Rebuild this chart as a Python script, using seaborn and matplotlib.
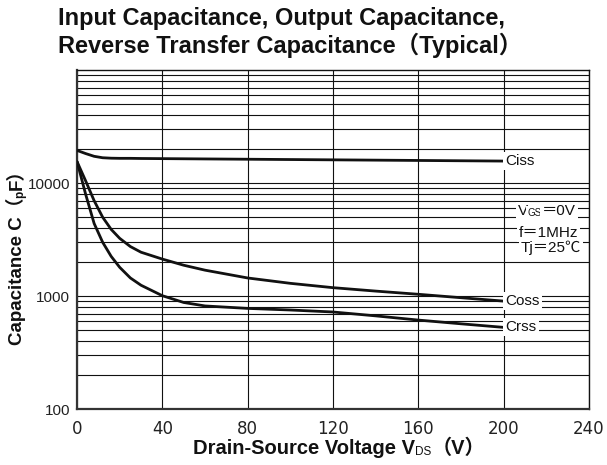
import numpy as np
import pandas as pd
import matplotlib
matplotlib.use("Agg")
import matplotlib.pyplot as plt
from matplotlib.ticker import FixedLocator, LogLocator, NullFormatter
import seaborn as sns

# values (VDS in V, capacitance in pF)
VDS = [0, 4, 8, 12, 16, 20, 25, 30, 40, 50, 60, 80, 100, 120, 140, 160, 180, 200]
CISS = [19500, 18300, 17300, 16800, 16650, 16600, 16600, 16550, 16500, 16450,
        16400, 16300, 16200, 16100, 16000, 15900, 15800, 15700]
COSS = [15500, 10500, 7000, 5000, 3900, 3250, 2750, 2450, 2130, 1880,
        1700, 1450, 1300, 1190, 1110, 1040, 970, 905]
CRSS = [15500, 8000, 4400, 3000, 2250, 1800, 1450, 1250, 1010, 880,
        820, 780, 755, 725, 670, 615, 570, 530]

X_TICKS = [0, 40, 80, 120, 160, 200, 240]
Y_TICKS = [100, 1000, 10000]
Y_TICK_LABELS = ["100", "1000", "10000"]

TITLE = "Input Capacitance, Output Capacitance,\nReverse Transfer Capacitance（Typical）"
INK = "#111111"

sns.set_style("white")
plt.rcParams["font.family"] = ["Liberation Sans", "Noto Sans CJK JP", "DejaVu Sans"]

df = pd.DataFrame({
    "VDS": VDS * 3,
    "C": CISS + COSS + CRSS,
    "curve": ["Ciss"] * len(VDS) + ["Coss"] * len(VDS) + ["Crss"] * len(VDS),
})

fig = plt.figure(figsize=(6.07, 4.65), dpi=100)
ax = fig.add_axes([0.127, 0.120, 0.843, 0.729])

sns.lineplot(data=df, x="VDS", y="C", hue="curve",
             palette={"Ciss": INK, "Coss": INK, "Crss": INK},
             linewidth=2.0, legend=False, ax=ax, zorder=3)

ax.set_yscale("log")
ax.set_xlim(0, 240)
ax.set_ylim(100, 100000)
ax.yaxis.set_minor_locator(LogLocator(base=10, subs=range(2, 10)))
ax.yaxis.set_minor_formatter(NullFormatter())
ax.set_yticks(Y_TICKS, Y_TICK_LABELS)
ax.set_xticks(X_TICKS, [str(v) for v in X_TICKS])

ax.grid(which="both", axis="y", color=INK, linewidth=0.8)
ax.grid(which="major", axis="x", color=INK, linewidth=0.8)
ax.tick_params(which="both", length=0)
ax.tick_params(axis="x", pad=8, labelcolor="#222222")
ax.tick_params(axis="y", pad=5, labelcolor="#222222")
for lab in ax.get_xticklabels():
    lab.set_family("DejaVu Sans")
    lab.set_fontsize(12)
for lab in ax.get_yticklabels():
    lab.set_fontsize(11)

for side in ["left", "bottom"]:
    ax.spines[side].set_linewidth(1.6)
    ax.spines[side].set_color("#333333")
for side in ["top", "right"]:
    ax.spines[side].set_linewidth(1.0)
    ax.spines[side].set_color(INK)
ax.set_xlabel("")
ax.set_ylabel("")

# curve labels
box = dict(facecolor="white", edgecolor="none", pad=1.5)
for name, vals in [("Ciss", CISS), ("Coss", COSS), ("Crss", CRSS)]:
    ax.text(VDS[-1] + 1, vals[-1], name, ha="left", va="center",
            fontsize=11, color=INK, bbox=box, zorder=4)


def chain(first, parts, rotated=False, boxed=False):
    t = first
    for s, size, weight in parts:
        if rotated:
            t = ax.annotate(s, xy=(1, 1), xycoords=t, ha="right", va="bottom",
                            rotation=90, fontsize=size, fontweight=weight,
                            color=INK, annotation_clip=False)
        else:
            t = ax.annotate(s, xy=(1, 0), xycoords=t, ha="left", va="bottom",
                            fontsize=size, fontweight=weight, color=INK,
                            bbox=box if boxed else None, zorder=4,
                            annotation_clip=False)
    return t


# test conditions
cond = dict(fontsize=11, color=INK, bbox=box, zorder=4, transform=ax.transAxes)
v = ax.text(0.861, 0.565, "V", ha="left", va="bottom", **cond)
chain(v, [("GS", 7, "normal"), ("＝0V", 11, "normal")], boxed=True)
ax.text(0.863, 0.519, "f＝1MHz", ha="left", va="center", **cond)
ax.text(0.867, 0.475, "Tj＝25℃", ha="left", va="center", **cond)

# axis labels
xl = fig.text(0.318, 0.016, "Drain-Source Voltage V", ha="left", va="bottom",
              fontsize=14.5, fontweight="bold", color=INK)
chain(xl, [("DS", 8.5, "normal"), ("（V）", 14.5, "bold")])
yl = fig.text(0.010, 0.258, "Capacitance C（", ha="left", va="bottom",
              rotation=90, fontsize=13.5, fontweight="bold", color=INK)
chain(yl, [("p", 8.5, "bold"), ("F）", 13.5, "bold")], rotated=True)

fig.text(0.0955, 0.985, TITLE, ha="left", va="top", fontsize=17,
         fontweight="bold", color=INK, linespacing=1.15)

fig.savefig("out.png", dpi=100, facecolor="white")
plt.close(fig)
